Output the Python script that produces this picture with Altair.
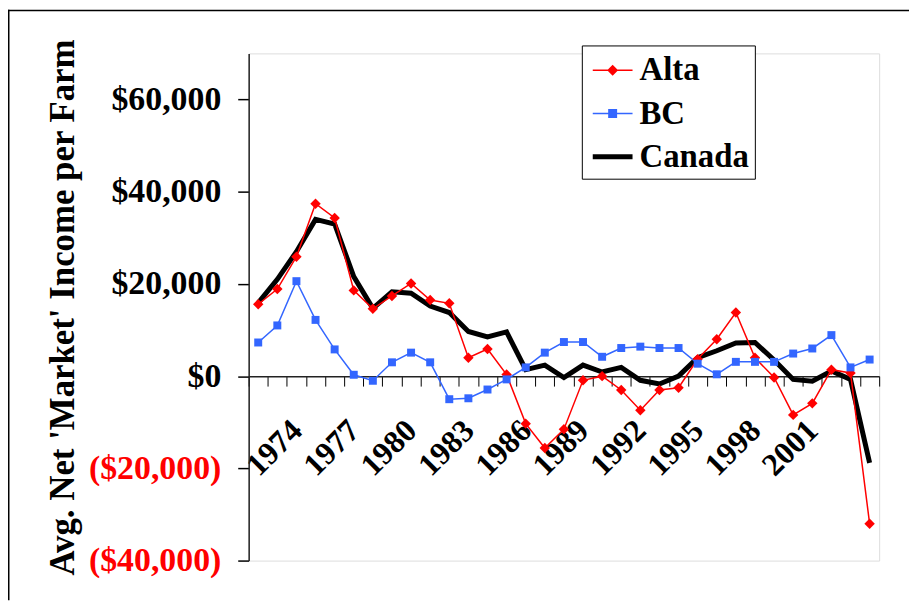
import altair as alt
import pandas as pd

# ---------------- data ----------------
years = list(range(1972, 2005))
alta = [15600, 18900, 25900, 37400, 34300, 18600, 14600, 17400, 20100, 16500,
        15800, 4000, 5900, 350, -10300, -15600, -11500, -900, 0, -3000,
        -7400, -3000, -2500, 3700, 8000, 13800, 4000, -300, -8400, -5900,
        1400, 700, -32000]
bc = [7300, 11000, 20600, 12200, 5800, 300, -1000, 3000, 5100, 3000,
      -5000, -4800, -2900, -700, 1900, 5100, 7400, 7400, 4200, 6100,
      6400, 6100, 6100, 2700, 400, 3100, 3100, 3100, 4900, 6000,
      8900, 1900, 3600]
canada = [15900, 21000, 27000, 34000, 33000, 21600, 14700, 18300, 18000, 15200,
          13800, 9700, 8500, 9600, 1400, 2400, -300, 2400, 900, 1900,
          -900, -1700, 0, 4000, 5500, 7200, 7300, 3500, -700, -1100,
          1100, -700, -18800]

series_names = ["Alta", "BC", "Canada"]
series_colors = ["#FF0000", "#3366FF", "#000000"]
y_ticks = [-40000, -20000, 0, 20000, 40000, 60000]
x_label_years = [1974, 1977, 1980, 1983, 1986, 1989, 1992, 1995, 1998, 2001]

df = pd.DataFrame({
    "Year": years * 3,
    "Series": ["Alta"] * len(years) + ["BC"] * len(years) + ["Canada"] * len(years),
    "Value": alta + bc + canada,
})

# ---------------- layout / style ----------------
FONT = "Liberation Serif"
W, H = 634, 510
PAD = {"left": 242, "top": 44, "right": 30, "bottom": 40}
Y_MIN, Y_MAX = -40000, 70000
zero_offset = -(H - H * Y_MAX / (Y_MAX - Y_MIN))

label_years_js = "[" + ",".join(str(v) for v in x_label_years) + "]"

x_enc = alt.X(
    "Year:O",
    bandPosition=0.5,
    scale=alt.Scale(type="band", paddingInner=0, paddingOuter=0),
    axis=alt.Axis(
        title=None,
        offset=zero_offset,
        domainColor="#222222",
        domainWidth=1.5,
        tickColor="#000000",
        tickWidth=1,
        tickSize=10,
        tickBand="extent",
        labelExpr="indexof(" + label_years_js + ", datum.value) >= 0 ? datum.label : ''",
        labelAngle=-45,
        labelAlign="right",
        labelBaseline="middle",
        labelPadding=39,
        labelFont=FONT,
        labelFontSize=32,
        labelFontWeight="bold",
        labelColor="#000000",
        labelOverlap=False,
        labelBound=False,
        labelFlush=False,
    ),
)

y_enc = alt.Y(
    "Value:Q",
    scale=alt.Scale(domain=[Y_MIN, Y_MAX], nice=False, zero=False),
    axis=alt.Axis(
        values=y_ticks,
        grid=False,
        domainColor="#222222",
        domainWidth=1.5,
        tickColor="#000000",
        tickSize=11,
        tickWidth=1.5,
        labelExpr="datum.value < 0 ? '($' + format(-datum.value, ',') + ')' : '$' + format(datum.value, ',')",
        labelColor={"condition": {"test": "datum.value < 0", "value": "#FF0000"}, "value": "#000000"},
        labelFont=FONT,
        labelFontSize=34,
        labelFontWeight="bold",
        labelPadding=17,
        title="Avg. Net 'Market' Income per Farm",
        titleFont=FONT,
        titleFontSize=35,
        titleFontWeight="bold",
        titleColor="#000000",
        titleAngle=270,
        titleAlign="center",
        titleBaseline="alphabetic",
        titleX=-176,
        titleY=H / 2,
    ),
)

base = alt.Chart(df)


def series_line(name, color, width):
    return base.transform_filter(alt.datum.Series == name).mark_line(
        color=color, strokeWidth=width
    ).encode(x=x_enc, y=y_enc)


def series_points(name, color, shape, size):
    return base.transform_filter(alt.datum.Series == name).mark_point(
        color=color, shape=shape, size=size, filled=True, opacity=1
    ).encode(x=x_enc, y=y_enc)


alta_line = series_line("Alta", series_colors[0], 1.5)
bc_line = series_line("BC", series_colors[1], 1.5)
canada_line = series_line("Canada", series_colors[2], 5)
alta_pts = series_points("Alta", series_colors[0], "diamond", 110)
bc_pts = series_points("BC", series_colors[1], "square", 64)

# legend symbols: short line with marker (custom paths in unit box)
legend_paths = [
    "M-1,-0.0375L1,-0.0375L1,0.0375L-1,0.0375Z M0,-0.275L0.275,0L0,0.275L-0.275,0Z",
    "M-1,-0.0375L1,-0.0375L1,0.0375L-1,0.0375Z M-0.225,-0.225L0.225,-0.225L0.225,0.225L-0.225,0.225Z",
    "M-1,-0.125L1,-0.125L1,0.125L-1,0.125Z",
]

legend_def = alt.Legend(
    title=None,
    orient="none",
    legendX=335,
    legendY=-8,
    padding=5,
    strokeColor="#000000",
    fillColor="#FFFFFF",
    labelFont=FONT,
    labelFontSize=33,
    labelFontWeight="bold",
    labelColor="#000000",
    labelOffset=7,
    symbolOffset=6,
    symbolSize=1600,
    symbolStrokeWidth=0,
    rowPadding=6.5,
)

legend_layer = base.transform_filter("false").mark_point(
    filled=True, opacity=1, size=1600
).encode(
    color=alt.Color("Series:N", scale=alt.Scale(domain=series_names, range=series_colors), legend=legend_def),
    shape=alt.Shape("Series:N", scale=alt.Scale(domain=series_names, range=legend_paths), legend=legend_def),
)

# outer chart frame (left and top edges visible in the reference)
frame_src = alt.Chart(pd.DataFrame({"k": [0]}))
frame_left = frame_src.mark_rule(color="#000000", strokeWidth=1.5).encode(
    x=alt.value(-PAD["left"] + 0.75), y=alt.value(-PAD["top"]), y2=alt.value(H + PAD["bottom"])
)
frame_top = frame_src.mark_rule(color="#000000", strokeWidth=1.5).encode(
    x=alt.value(-PAD["left"]), x2=alt.value(W + PAD["right"]), y=alt.value(-PAD["top"] + 0.75)
)

chart = alt.layer(
    canada_line, alta_line, bc_line, alta_pts, bc_pts, legend_layer, frame_left, frame_top
).properties(
    width=W,
    height=H,
    autosize=alt.AutoSizeParams(type="none"),
    padding=PAD,
).configure_view(
    stroke=None
).configure(
    background="#FFFFFF"
)

chart.save("out.html", embed_options={"renderer": "svg", "actions": False})
